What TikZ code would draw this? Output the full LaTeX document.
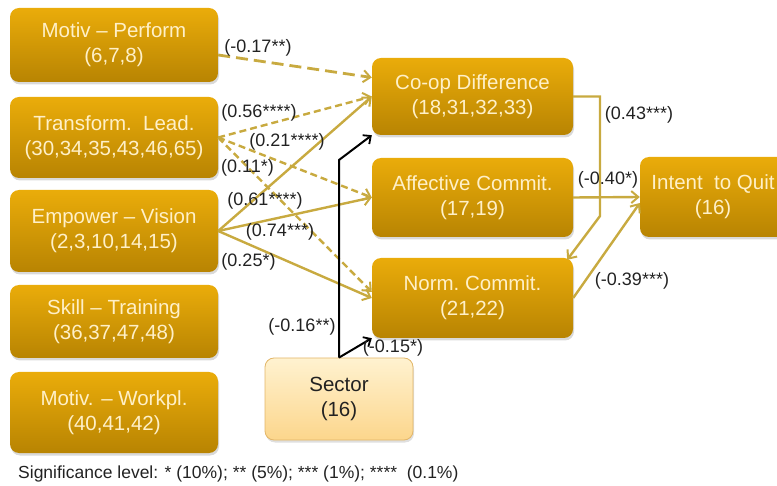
\documentclass[tikz,border=0pt]{standalone}
\usepackage{fontspec}
\setmainfont{Liberation Sans}
\usetikzlibrary{arrows.meta,shadows}
\definecolor{boxtop}{RGB}{234,172,10}
\definecolor{boxbot}{RGB}{184,132,2}
\definecolor{boxtext}{RGB}{255,240,200}
\definecolor{sectop}{RGB}{255,242,208}
\definecolor{secbot}{RGB}{252,214,140}
\definecolor{secborder}{RGB}{226,182,104}
\definecolor{conn}{RGB}{200,170,64}
\definecolor{lbl}{RGB}{34,34,34}
\tikzset{
  box/.style={rounded corners=9pt, top color=boxtop, bottom color=boxbot, draw=none,
    text=boxtext, align=center, font=\fontsize{20.5}{25}\selectfont, inner sep=0pt,
    drop shadow={opacity=0.3, shadow xshift=1pt, shadow yshift=-2.5pt}},
  secbox/.style={rounded corners=9pt, top color=sectop, bottom color=secbot, draw=secborder,
    line width=0.8pt, text=lbl, align=center, font=\fontsize{20.5}{25}\selectfont, inner sep=0pt,
    drop shadow={opacity=0.25, shadow xshift=1pt, shadow yshift=-2.5pt}},
  lab/.style={text=lbl, font=\fontsize{18}{20}\selectfont, inner sep=0pt},
  conline/.style={draw=conn, line width=2.4pt, -{Straight Barb[length=7pt,width=12pt,line width=2pt]}},
  condash/.style={conline, dash pattern=on 7pt off 4pt},
  condashb/.style={conline, line width=2.8pt, dash pattern=on 12pt off 6pt},
  blk/.style={draw=black, line width=2pt, -{Straight Barb[length=6pt,width=11pt,line width=1.8pt]}}
}
\begin{document}
\begin{tikzpicture}[x=1pt,y=-1pt]
\useasboundingbox (0,0) rectangle (777,486);
% left boxes
\node[box, minimum width=208pt, minimum height=74pt] (mp) at (114,45) {Motiv -- Perform\\(6,7,8)};
\node[box, minimum width=208pt, minimum height=81pt] (tl) at (114,137.5) {Transform.\ \ Lead.\\(30,34,35,43,46,65)};
\node[box, minimum width=208pt, minimum height=82pt] (ev) at (114,231) {Empower -- Vision\\(2,3,10,14,15)};
\node[box, minimum width=208pt, minimum height=73pt] (st) at (114,321.5) {Skill -- Training\\(36,37,47,48)};
\node[box, minimum width=208pt, minimum height=81pt] (mw) at (114,412.5) {Motiv. -- Workpl.\\(40,41,42)};
% middle boxes
\node[box, minimum width=201pt, minimum height=77pt] (coop) at (472.5,96.5) {Co-op Difference\\(18,31,32,33)};
\node[box, minimum width=201pt, minimum height=79pt] (ac) at (472.5,197.5) {Affective Commit.\\(17,19)};
\node[box, minimum width=201pt, minimum height=80pt] (nc) at (472.5,298) {Norm.\ Commit.\\(21,22)};
% right box
\node[box, minimum width=146pt, minimum height=80pt] (iq) at (713,197) {Intent\ \ to Quit\\(16)};
% sector
\node[secbox, minimum width=148pt, minimum height=82pt] (sec) at (339,399) {Sector\\(16)};
% connectors
\draw[condashb] ([yshift=-10pt]mp.east) -- ([yshift=19pt]coop.west);
\draw[condash] (tl.east) -- (coop.west);
\draw[condash] (tl.east) -- (ac.west);
\draw[condash] (tl.east) -- ([yshift=6pt]nc.west);
\draw[conline] (ev.east) -- (coop.west);
\draw[conline] (ev.east) -- (ac.west);
\draw[conline] (ev.east) -- (nc.west);
\coordinate (bend) at (600,216);
\draw[conline] (coop.east) -- (coop.east -| bend) -- (bend) -- ([xshift=-6pt,yshift=-2pt]nc.north east);
\draw[conline] (ac.east) -- (iq.west);
\draw[conline] (nc.east) -- ([yshift=-6pt]iq.west);
\coordinate (sbend) at (339,160);
\draw[blk] (sec.north) -- (sbend) -- (coop.south west);
\draw[blk] (sec.north) -- (nc.south west);
% labels
\node[lab] (l1) at (258,48) {(-0.17**)};
\node[lab] (l2) at (259,113) {(0.56****)};
\node[lab] (l3) at (287,142) {(0.21****)};
\node[lab] (l4) at (247.5,168) {(0.11*)};
\node[lab] (l5) at (265,201) {(0.61****)};
\node[lab] (l6) at (280,232) {(0.74***)};
\node[lab] (l7) at (248.5,262) {(0.25*)};
\node[lab] (l8) at (302,327) {(-0.16**)};
\node[lab] (l9) at (393,348) {(-0.15*)};
\node[lab] (l10) at (639,115) {(0.43***)};
\node[lab] (l11) at (608,180) {(-0.40*)};
\node[lab] (l12) at (632,281) {(-0.39***)};
\node[lab, anchor=west, font=\fontsize{17.5}{20}\selectfont] (sig) at (18,474) {Significance level: * (10\%); ** (5\%); *** (1\%); ****\ \ (0.1\%)};
\end{tikzpicture}
\end{document}
